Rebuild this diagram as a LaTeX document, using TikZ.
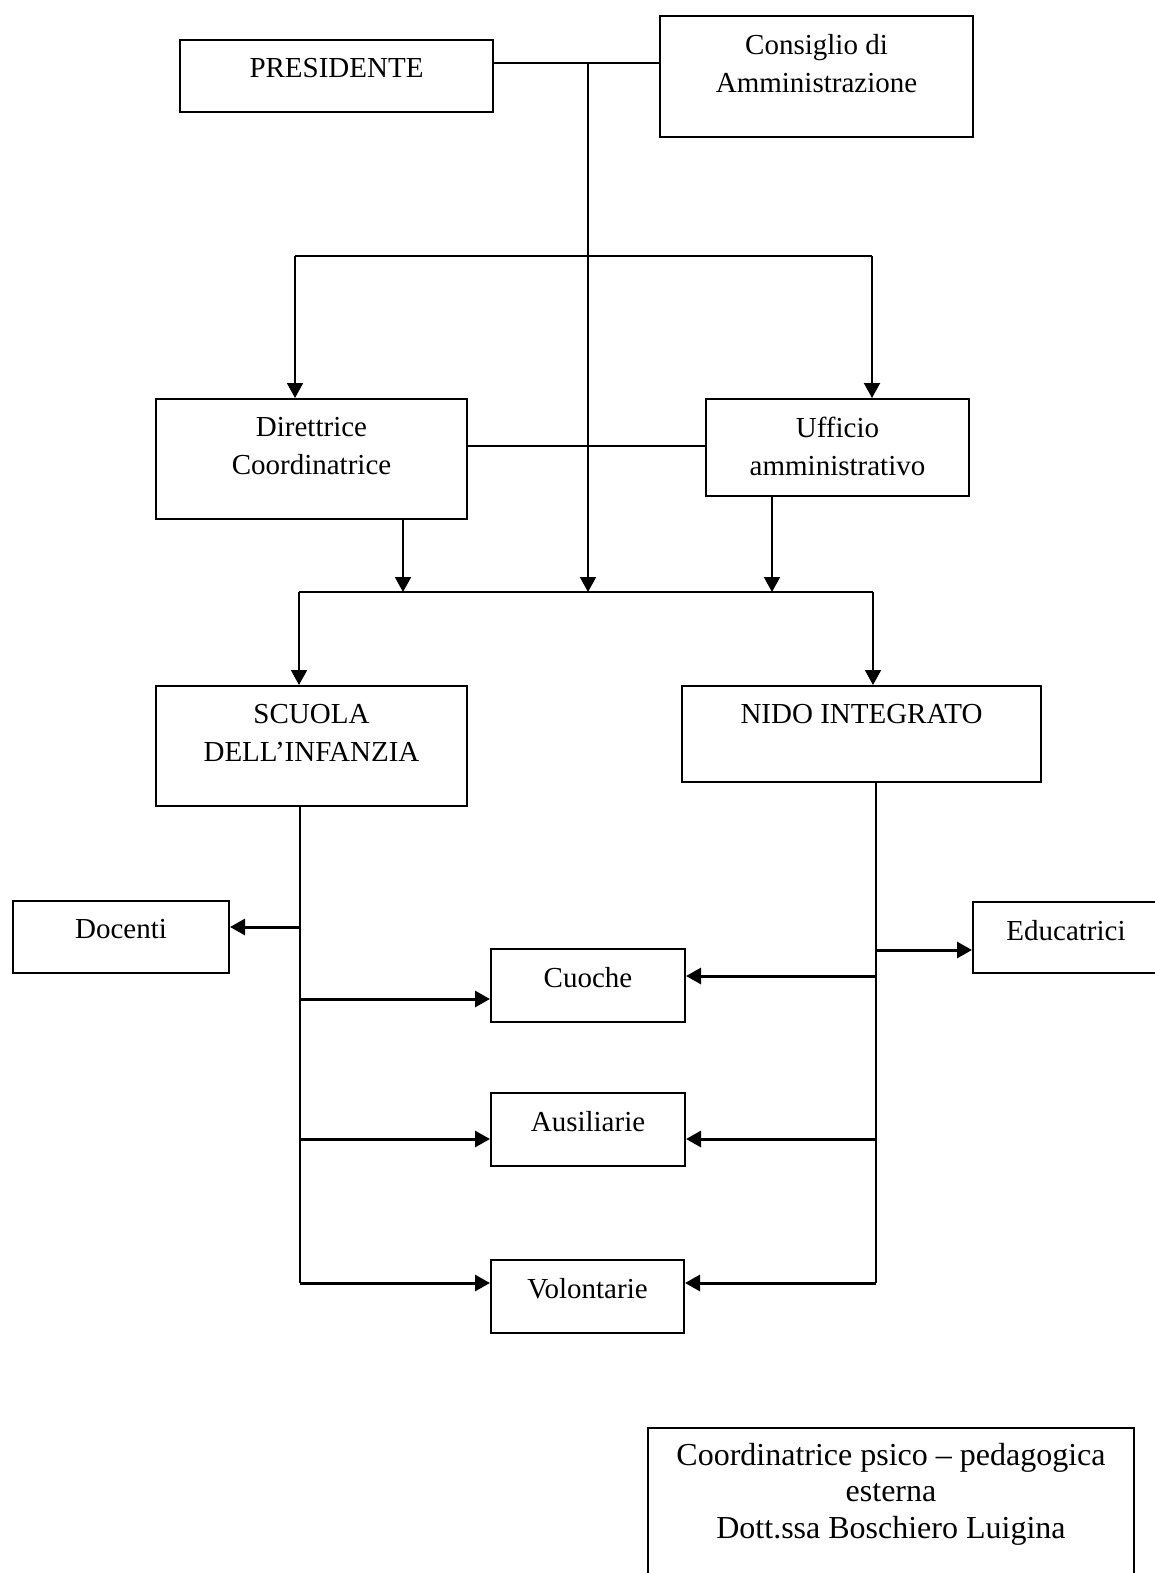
\documentclass[tikz,border=0pt]{standalone}
\usepackage{fontspec}
\setmainfont{Liberation Serif}
\usetikzlibrary{arrows.meta}

\tikzset{
  box/.style={draw, line width=2pt, align=center, anchor=north west,
    inner xsep=0pt, inner ysep=18pt, font=\fontsize{29}{38}\selectfont},
  link/.style={line width=2pt},
  arr/.style={-{Triangle[length=15pt,width=16pt]}},
  branch/.style={line width=3pt, -{Triangle[length=15pt,width=16pt]}},
}

\begin{document}
\begin{tikzpicture}[x=1pt, y=-1pt]

\useasboundingbox (0,0) rectangle (1155,1573);

\def\xm{588} % main trunk
\def\xl{300} % scuola trunk
\def\xr{876} % nido trunk

% boxes
\node[box, minimum width=313pt, text depth=16.5pt] (pres) at (179,39) {PRESIDENTE};
\node[box, minimum width=313pt, text depth=26.5pt] (cda) at (659,15) {Consiglio di\\Amministrazione};
\node[box, minimum width=311pt, text depth=26.5pt] (dir) at (155,398) {Direttrice\\Coordinatrice};
\node[box, minimum width=263pt, text depth=2.5pt] (uff) at (705,398) {Ufficio\\amministrativo};
\node[box, minimum width=311pt, text depth=26.5pt] (scu) at (155,685) {SCUOLA\\DELL’INFANZIA};
\node[box, minimum width=359pt, text depth=40.5pt] (nido) at (681,685) {NIDO INTEGRATO};

\node[box, minimum width=216pt, text depth=16.5pt] (doc) at (12,900) {Docenti};
\node[box, minimum width=186pt, text depth=14.5pt] (edu) at (972,901) {Educatrici};
\node[box, minimum width=194pt, text depth=16.5pt] (cuo) at (490,948) {Cuoche};
\node[box, minimum width=194pt, text depth=16.5pt] (aus) at (490,1092) {Ausiliarie};
\node[box, minimum width=193pt, text depth=16.5pt] (vol) at (490,1259) {Volontarie};

\node[box, minimum width=486pt, inner ysep=15pt, text depth=50pt,
  font=\fontsize{32}{36.5}\selectfont] (coord) at (647,1427)
  {Coordinatrice psico – pedagogica\\esterna\\Dott.ssa Boschiero Luigina};

% junctions
\coordinate (jtop) at (\xm,63);
\coordinate (jmid) at (\xm,446);
\coordinate (jbus) at (\xm,592);
\coordinate (ldist) at (295,256);
\coordinate (rdist) at (872,256);
\coordinate (dout) at (403,592);
\coordinate (uout) at (772,592);
\coordinate (lbus) at (299,592);
\coordinate (rbus) at (873,592);
\coordinate (lend) at (\xl,1283);
\coordinate (rend) at (\xr,1283);

% top part
\draw[link] (pres.east |- jtop) -- (cda.west |- jtop);
\draw[link, arr] (jtop) -- (jbus);
\draw[link] (ldist) -- (rdist);
\draw[link, arr] (ldist) -- (ldist |- dir.north);
\draw[link, arr] (rdist) -- (rdist |- uff.north);
\draw[link] (dir.east |- jmid) -- (uff.west |- jmid);
\draw[link, arr] (dout |- dir.south) -- (dout);
\draw[link, arr] (uout |- uff.south) -- (uout);

% bus to the two schools
\draw[link] (lbus) -- (rbus);
\draw[link, arr] (lbus) -- (lbus |- scu.north);
\draw[link, arr] (rbus) -- (rbus |- nido.north);

% staff
\draw[link] (lend |- scu.south) -- (lend);
\draw[link] (rend |- nido.south) -- (rend);
\draw[branch] (lend |- 0,927) -- (doc.east |- 0,927);
\draw[branch] (rend |- 0,950) -- (edu.west |- 0,950);
\foreach \n/\yl/\yr in {cuo/999/976, aus/1139/1139, vol/1283/1283}{
  \draw[branch] (lend |- 0,\yl) -- (\n.west |- 0,\yl);
  \draw[branch] (rend |- 0,\yr) -- (\n.east |- 0,\yr);
}

\end{tikzpicture}
\end{document}
